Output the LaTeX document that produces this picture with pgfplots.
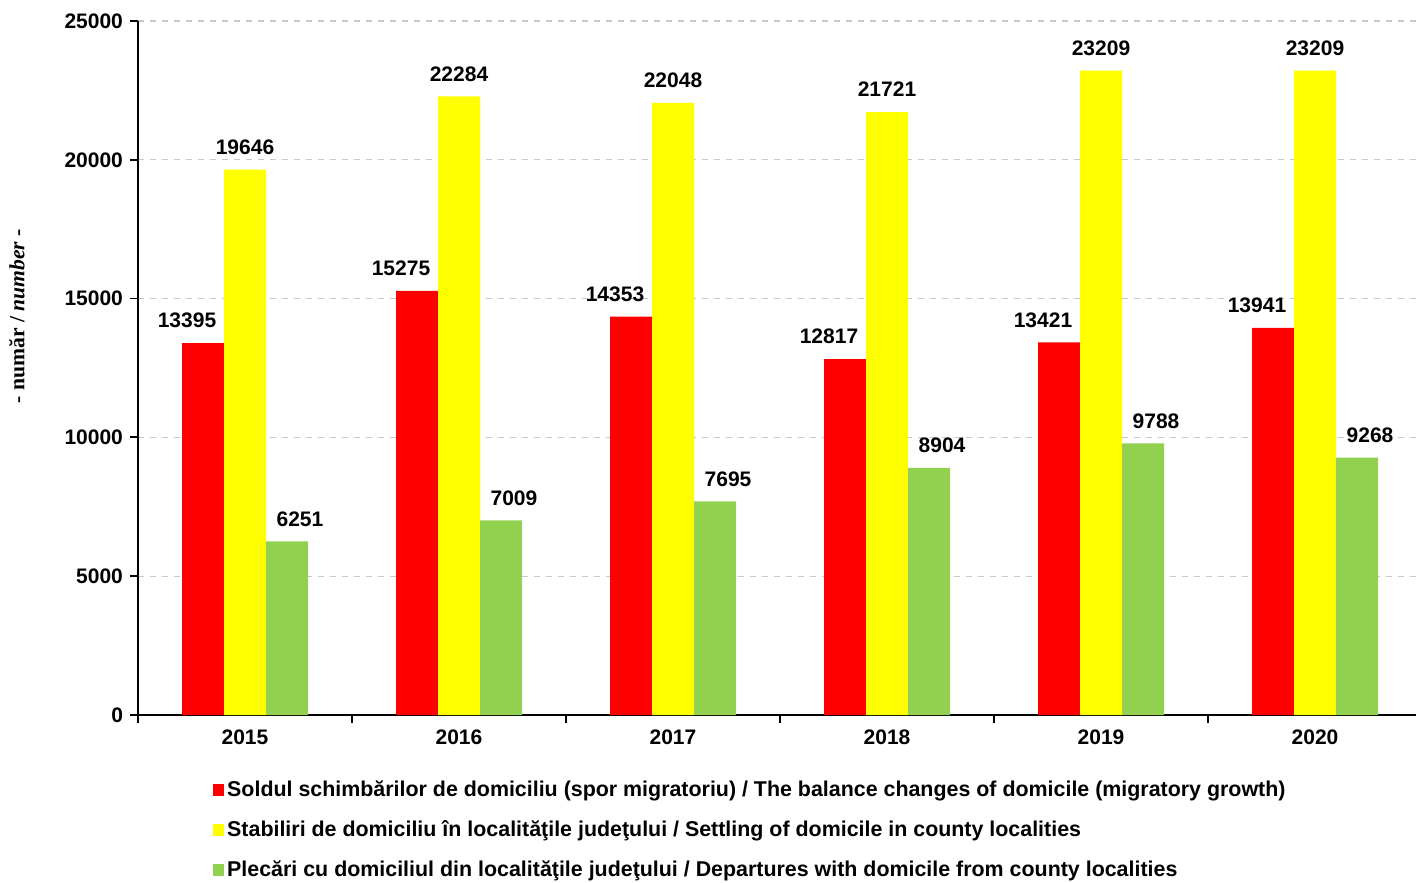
\documentclass[border=0pt]{standalone}
\usepackage{pgfplots}
\pgfplotsset{compat=1.18}
\usepackage{fontspec}
\setmainfont{Liberation Sans}
\newfontfamily\timesfont{Liberation Serif}
\definecolor{barred}{HTML}{FF0000}
\definecolor{baryellow}{HTML}{FFFF00}
\definecolor{bargreen}{HTML}{92D050}
\definecolor{gridgray}{HTML}{C8C8C8}

\pgfplotstableread{
x  sold   stab   plec
0  13395  19646  6251
1  15275  22284  7009
2  14353  22048  7695
3  12817  21721  8904
4  13421  23209  9788
5  13941  23209  9268
}\migratie

\begin{document}
\begin{tikzpicture}
\begin{axis}[
    name=ax,
    scale only axis,
    width=642pt, height=347pt,
    ybar=0pt, bar width=21pt,
    xmin=-0.5, xmax=5.5,
    ymin=0, ymax=25000,
    ytick={0,5000,...,25000},
    xtick={0,...,5},
    xticklabels={2015,2016,2017,2018,2019,2020},
    minor xtick={-0.5,0.5,...,5.5},
    major x tick style={draw=none},
    minor x tick style={black, line width=0.9pt},
    minor tick length=4pt,
    major tick length=4pt,
    y tick style={black, line width=0.9pt},
    tick align=outside,
    axis x line*=bottom, axis y line*=left,
    axis line style={line width=1pt, -},
    ymajorgrids,
    grid style={gridgray, dashed, line width=0.6pt},
    scaled y ticks=false,
    /pgf/number format/assume math mode=true,
    /pgf/number format/1000 sep={},
    ticklabel style={font=\fontsize{10.5}{12.6}\selectfont\bfseries},
    ylabel={\timesfont\bfseries - număr / \textit{number} -},
    ylabel style={at={(axis description cs:-0.0943,0.575)}, anchor=center,
        font=\fontsize{10.8}{13}\selectfont},
    nodes near coords,
    nodes near coords style={font=\fontsize{10.5}{12.6}\selectfont\bfseries,
        /pgf/number format/assume math mode=true, yshift=4pt},
    legend style={at={(axis description cs:0.0578,-0.088)}, anchor=north west,
        draw=none, font=\fontsize{10.7}{12.8}\selectfont\bfseries, row sep=6.6pt, inner sep=0pt,
        nodes={inner xsep=1.5pt}},
    legend cell align=left,
    legend image code/.code={\fill[#1] (0pt,-2.9pt) rectangle (5.8pt,2.9pt);},
]
\addplot[fill=barred, draw=none, nodes near coords style={xshift=-8pt}] table[x=x, y=sold] {\migratie};
\addlegendentry{Soldul schimbărilor de domiciliu (spor migratoriu) / The balance changes of domicile (migratory growth)}
\addplot[fill=baryellow, draw=none] table[x=x, y=stab] {\migratie};
\addlegendentry{Stabiliri de domiciliu în localităţile judeţului / Settling of domicile in county localities}
\addplot[fill=bargreen, draw=none, nodes near coords style={xshift=6.5pt}] table[x=x, y=plec] {\migratie};
\addlegendentry{Plecări cu domiciliul din localităţile judeţului / Departures with domicile from county localities}
\end{axis}
\pgfresetboundingbox
\useasboundingbox ([shift={(-69pt,-83.5pt)}]ax.south west) rectangle ([shift={(-3pt,10.5pt)}]ax.north east);
\end{tikzpicture}
\end{document}
